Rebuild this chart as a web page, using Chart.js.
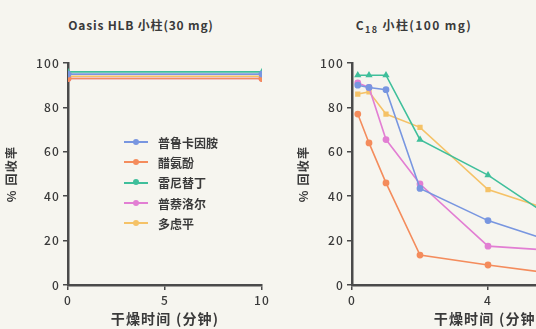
<!DOCTYPE html>
<html>
<head>
<meta charset="utf-8">
<script src="https://cdn.jsdelivr.net/npm/chart.js@4"></script>
<style>
  html, body { margin: 0; padding: 0; background: #f6f5ef; }
  body { width: 536px; height: 329px; overflow: hidden; position: relative;
         font-family: "Noto Sans CJK SC", "Noto Sans", sans-serif; color: #3a3a3a; }
  .wrap { position: absolute; top: 0; }
  #leftWrap { left: 0; width: 290px; height: 329px; }
  #rightWrap { left: 280px; width: 360px; height: 329px; }
  .title { position: absolute; top: 16px; font-size: 12px; font-weight: 700;
           white-space: nowrap; transform: translateX(-50%); letter-spacing: 0.8px; }
  .title sub { font-size: 9px; }
  #legend { position: absolute; left: 124px; top: 132px; font-size: 12px; font-weight: 700; }
  .item { height: 20.3px; display: flex; align-items: center; }
  .mark { position: relative; width: 24px; height: 2px; margin-right: 10px; }
  .mark i { position: absolute; left: 9px; top: -2.5px; width: 6px; height: 6px; border-radius: 50%; }
</style>
</head>
<body>
<div class="title" style="left:141px">Oasis HLB 小柱(30 mg)</div>
<div class="title" style="left:414px; letter-spacing:1.4px">C<sub>18</sub> 小柱(100 mg)</div>
<div class="wrap" id="leftWrap"><canvas id="left"></canvas></div>
<div class="wrap" id="rightWrap"><canvas id="right"></canvas></div>
<div id="legend"></div>
<script>
"use strict";

const COMPOUNDS = ["普鲁卡因胺", "醋氨酚", "雷尼替丁", "普萘洛尔", "多虑平"];
const COLORS = ["#7896e0", "#f48c5c", "#3fbf9b", "#e27ed3", "#f5c267"];
const POINT_STYLES = ["circle", "circle", "triangle", "circle", "rect"];

// Oasis HLB: drying time (min)
const HLB_TIME = [0, 10];
const HLB_PROCAINAMIDE = [95, 95];
const HLB_ACETAMINOPHEN = [93, 93];
const HLB_RANITIDINE = [96, 96];
const HLB_PROPRANOLOL = [93, 93];
const HLB_DOXEPIN = [94, 94];

// C18: drying time (min)
const C18_TIME = [0.17, 0.5, 1, 2, 4, 6];
const C18_PROCAINAMIDE = [90, 89, 88, 43.5, 29, 19];
const C18_ACETAMINOPHEN = [77, 64, 46, 13.5, 9, 5];
const C18_RANITIDINE = [94.5, 94.5, 94.5, 65.5, 49.5, 29];
const C18_PROPRANOLOL = [91, 89, 65.5, 45.5, 17.5, 15.5];
const C18_DOXEPIN = [86, 87, 77, 71, 43, 33];

const Y_TICK_STEP = 20;
const HLB_X_STEP = 5;
const C18_X_STEP = 4;
const C18_X_MAX = 8;

const AXIS = "#4a4a4a";
const TEXT = "#3a3a3a";
const TICK_FONT = { family: "'Noto Sans CJK SC', 'Noto Sans', sans-serif", size: 12, weight: "500" };
const TITLE_FONT = { family: "'Noto Sans CJK SC', sans-serif", size: 14, weight: "700" };

// wider text spacing like the source figure
const spacing = {
  id: "spacing",
  beforeDraw: (chart) => { chart.ctx.letterSpacing = "1.2px"; },
};

function makeDatasets(xs, series) {
  return series.map((ys, i) => ({
    label: COMPOUNDS[i],
    data: xs.map((x, j) => ({ x, y: ys[j] })),
    borderColor: COLORS[i],
    backgroundColor: COLORS[i],
    borderWidth: 1.6,
    pointRadius: 2.6,
    pointStyle: POINT_STYLES[i],
    tension: 0,
  }));
}

function makeChart(id, datasets, xMax, xStep, yWidth, padding) {
  const axisGrid = { display: true, drawOnChartArea: false, drawTicks: true, tickLength: 5, color: AXIS, lineWidth: 1.5 };
  return new Chart(document.getElementById(id), {
    type: "line",
    data: { datasets },
    plugins: [spacing],
    options: {
      responsive: false,
      animation: false,
      layout: { padding },
      plugins: { legend: { display: false }, tooltip: { enabled: false } },
      scales: {
        x: {
          type: "linear",
          min: 0,
          max: xMax,
          ticks: { stepSize: xStep, color: TEXT, font: TICK_FONT, padding: 3 },
          grid: axisGrid,
          border: { display: true, color: AXIS, width: 2.5 },
          title: { display: true, text: "干燥时间 (分钟)", color: TEXT, font: TITLE_FONT, padding: { top: 0, bottom: 2 } },
          afterFit: (s) => { s.height = 44; },
        },
        y: {
          min: 0,
          max: 100,
          ticks: { stepSize: Y_TICK_STEP, color: TEXT, font: TICK_FONT, padding: 3 },
          grid: axisGrid,
          border: { display: true, color: AXIS, width: 2.5 },
          title: { display: true, text: "% 回收率", color: TEXT, font: { ...TITLE_FONT, size: 12 }, padding: 4 },
          afterFit: (s) => { s.width = yWidth; },
        },
      },
    },
  });
}

function sizeCanvas(id, w, h) {
  const c = document.getElementById(id);
  c.width = w; c.height = h;
  c.style.width = w + "px"; c.style.height = h + "px";
}

sizeCanvas("left", 290, 329);
sizeCanvas("right", 360, 329);

makeChart("left",
  makeDatasets(HLB_TIME, [HLB_PROCAINAMIDE, HLB_ACETAMINOPHEN, HLB_RANITIDINE, HLB_PROPRANOLOL, HLB_DOXEPIN]),
  10, HLB_X_STEP, 68, { left: 0, top: 63, right: 28, bottom: 0 });

makeChart("right",
  makeDatasets(C18_TIME, [C18_PROCAINAMIDE, C18_ACETAMINOPHEN, C18_RANITIDINE, C18_PROPRANOLOL, C18_DOXEPIN]),
  C18_X_MAX, C18_X_STEP, 60, { left: 12, top: 63, right: 16, bottom: 0 });

// legend drawn inside the left panel
const legend = document.getElementById("legend");
COMPOUNDS.forEach((name, i) => {
  const row = document.createElement("div");
  row.className = "item";
  row.innerHTML = `<span class="mark" style="background:${COLORS[i]}"><i style="background:${COLORS[i]}"></i></span>${name}`;
  legend.appendChild(row);
});
</script>
</body>
</html>
